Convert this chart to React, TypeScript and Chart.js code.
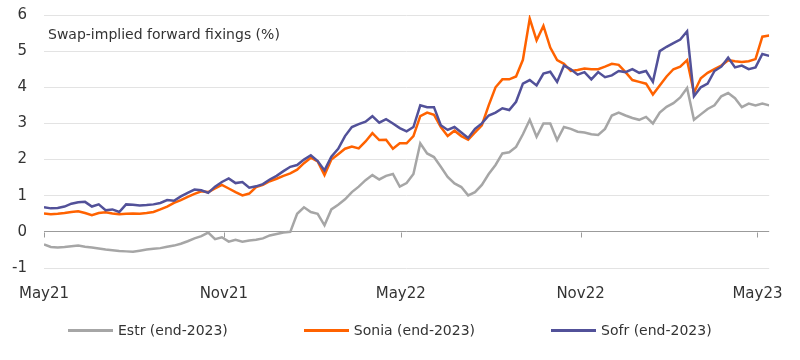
import React, { useEffect, useRef } from "react";
import { Chart, registerables } from "chart.js";

Chart.register(...registerables);

// Weekly observation dates
const dates = [
  "2021-05-01","2021-05-08","2021-05-15","2021-05-22","2021-05-29","2021-06-05","2021-06-12","2021-06-19","2021-06-26",
  "2021-07-03","2021-07-10","2021-07-17","2021-07-24","2021-07-31","2021-08-07","2021-08-14","2021-08-21","2021-08-28",
  "2021-09-04","2021-09-11","2021-09-18","2021-09-25","2021-10-02","2021-10-09","2021-10-16","2021-10-23","2021-10-30",
  "2021-11-06","2021-11-13","2021-11-20","2021-11-27","2021-12-04","2021-12-11","2021-12-18","2021-12-25",
  "2022-01-01","2022-01-08","2022-01-15","2022-01-22","2022-01-29","2022-02-05","2022-02-12","2022-02-19","2022-02-26",
  "2022-03-05","2022-03-12","2022-03-19","2022-03-26","2022-04-02","2022-04-09","2022-04-16","2022-04-23","2022-04-30",
  "2022-05-07","2022-05-14","2022-05-21","2022-05-28","2022-06-04","2022-06-11","2022-06-18","2022-06-25","2022-07-02",
  "2022-07-09","2022-07-16","2022-07-23","2022-07-30","2022-08-06","2022-08-13","2022-08-20","2022-08-27","2022-09-03",
  "2022-09-10","2022-09-17","2022-09-24","2022-10-01","2022-10-08","2022-10-15","2022-10-22","2022-10-29","2022-11-05",
  "2022-11-12","2022-11-19","2022-11-26","2022-12-03","2022-12-10","2022-12-17","2022-12-24","2022-12-31",
  "2023-01-07","2023-01-14","2023-01-21","2023-01-28","2023-02-04","2023-02-11","2023-02-18","2023-02-25","2023-03-04",
  "2023-03-11","2023-03-18","2023-03-25","2023-04-01","2023-04-08","2023-04-15","2023-04-22","2023-04-29","2023-05-06",
  "2023-05-13"
];

const estr = [
  -0.35,-0.42,-0.43,-0.42,-0.40,-0.38,-0.41,-0.43,-0.46,-0.49,-0.51,-0.53,-0.54,-0.55,-0.52,-0.49,-0.47,-0.45,
  -0.41,-0.38,-0.33,-0.26,-0.18,-0.12,-0.02,-0.20,-0.15,-0.27,-0.22,-0.27,-0.24,-0.22,-0.18,-0.10,-0.06,
  -0.02,0.00,0.50,0.68,0.55,0.50,0.18,0.62,0.75,0.90,1.10,1.25,1.43,1.57,1.45,1.55,1.60,1.25,
  1.35,1.60,2.45,2.17,2.07,1.80,1.52,1.34,1.24,1.01,1.10,1.30,1.60,1.85,2.17,2.20,2.35,2.70,
  3.10,2.63,3.00,3.00,2.54,2.90,2.85,2.77,2.75,2.70,2.68,2.85,3.22,3.30,3.22,3.15,3.10,
  3.18,3.00,3.30,3.46,3.56,3.72,3.98,3.10,3.25,3.40,3.50,3.75,3.84,3.70,3.45,3.55,3.50,3.55,
  3.50
];

const sonia = [
  0.51,0.49,0.50,0.52,0.55,0.57,0.52,0.46,0.52,0.54,0.51,0.49,0.50,0.51,0.50,0.52,0.55,0.62,
  0.70,0.80,0.88,0.97,1.05,1.12,1.10,1.20,1.30,1.20,1.10,1.01,1.06,1.24,1.30,1.40,1.47,
  1.55,1.62,1.72,1.90,2.05,1.95,1.57,2.00,2.15,2.30,2.36,2.31,2.50,2.73,2.54,2.55,2.30,2.45,
  2.45,2.65,3.20,3.30,3.24,2.90,2.65,2.80,2.65,2.55,2.75,2.95,3.50,4.00,4.22,4.22,4.30,4.76,
  5.90,5.30,5.70,5.10,4.75,4.65,4.45,4.48,4.52,4.50,4.50,4.57,4.65,4.62,4.42,4.20,4.15,
  4.10,3.80,4.05,4.30,4.50,4.57,4.75,3.85,4.25,4.40,4.50,4.60,4.75,4.72,4.70,4.72,4.78,5.40,
  5.43
];

const sofr = [
  0.68,0.65,0.66,0.70,0.78,0.82,0.83,0.70,0.76,0.60,0.62,0.55,0.76,0.75,0.73,0.74,0.76,0.80,
  0.88,0.86,0.98,1.08,1.17,1.15,1.08,1.25,1.38,1.48,1.35,1.38,1.22,1.26,1.32,1.45,1.55,
  1.68,1.80,1.85,2.00,2.12,1.96,1.70,2.08,2.30,2.65,2.90,2.98,3.05,3.20,3.02,3.12,3.00,2.87,
  2.78,2.90,3.50,3.45,3.45,2.95,2.82,2.90,2.75,2.60,2.85,3.00,3.22,3.30,3.42,3.37,3.60,4.10,
  4.20,4.05,4.38,4.43,4.15,4.60,4.50,4.35,4.42,4.22,4.42,4.28,4.33,4.45,4.42,4.50,4.40,
  4.45,4.15,5.00,5.12,5.22,5.32,5.55,3.75,4.00,4.10,4.45,4.57,4.82,4.55,4.60,4.50,4.55,4.92,
  4.87
];

const tickDates = ["2021-05-01", "2021-11-01", "2022-05-01", "2022-11-01", "2023-05-01"];
const tickLabels = ["May21", "Nov21", "May22", "Nov22", "May23"];
const yMin = -1;
const yMax = 6;
const seriesNames = ["Estr (end-2023)", "Sonia (end-2023)", "Sofr (end-2023)"];
const seriesColors = ["#A6A6A6", "#FF6200", "#525199"];
const titleText = "Swap-implied forward fixings (%)";
const FONT = "'DejaVu Sans', sans-serif";
const TEXT = "#333333";

const ORIGIN = Date.UTC(2021, 4, 1);
const toDay = (s: string) => {
  const [y, m, d] = s.split("-").map(Number);
  return (Date.UTC(y, m - 1, d) - ORIGIN) / 86400000;
};
const tickDays = tickDates.map(toDay);
const lastDay = toDay(dates[dates.length - 1]);

const zeroAxisPlugin = {
  id: "zeroAxisAndTitle",
  beforeDatasetsDraw(chart: any) {
    const { ctx, scales, chartArea } = chart;
    const x = scales.x;
    const y = scales.y;
    const y0 = Math.round(y.getPixelForValue(0)) + 0.5;
    ctx.save();
    ctx.strokeStyle = "#9b9b9b";
    ctx.lineWidth = 1;
    ctx.beginPath();
    tickDays.forEach((d) => {
      const px = Math.round(x.getPixelForValue(d)) + 0.5;
      ctx.moveTo(px, y0);
      ctx.lineTo(px, y0 + 5);
    });
    ctx.stroke();
    ctx.fillStyle = TEXT;
    ctx.font = `14px ${FONT}`;
    ctx.textBaseline = "middle";
    ctx.textAlign = "left";
    ctx.fillText(titleText, chartArea.left + 4, chartArea.top + 20);
    ctx.restore();
  },
};

export default function App() {
  const ref = useRef<HTMLCanvasElement | null>(null);

  useEffect(() => {
    if (!ref.current) return;
    const series = [estr, sonia, sofr];
    const chart = new Chart(ref.current, {
      type: "line",
      data: {
        datasets: series.map((vals, i) => ({
          label: seriesNames[i],
          data: dates.map((d, j) => ({ x: toDay(d), y: vals[j] })),
          borderColor: seriesColors[i],
          backgroundColor: seriesColors[i],
          borderWidth: 2.5,
          pointRadius: 0,
          tension: 0,
          order: 2 - i,
        })),
      },
      options: {
        animation: false,
        responsive: false,
        devicePixelRatio: 1,
        layout: { padding: { top: 15, right: 30, left: 0, bottom: 0 } },
        plugins: {
          legend: { display: false },
          tooltip: { enabled: false },
        },
        scales: {
          x: {
            type: "linear",
            min: 0,
            max: lastDay,
            grid: { display: false, drawTicks: false },
            border: { display: false },
            afterBuildTicks: (scale: any) => {
              scale.ticks = tickDays.map((v) => ({ value: v }));
            },
            afterFit: (scale: any) => {
              scale.height = 92;
              scale.paddingTop = 0;
              scale.paddingBottom = 0;
            },
            ticks: {
              autoSkip: false,
              maxRotation: 0,
              padding: 17,
              color: TEXT,
              font: { family: FONT, size: 15 },
              callback: (value: any) => {
                const idx = tickDays.indexOf(Number(value));
                return idx >= 0 ? tickLabels[idx] : "";
              },
            },
          },
          y: {
            min: yMin,
            max: yMax,
            border: { display: false },
            grid: {
              drawTicks: false,
              color: (c: any) => (c.tick && c.tick.value === 0 ? "#9b9b9b" : "#e3e3e3"),
              lineWidth: 1,
            },
            afterFit: (scale: any) => {
              scale.width = 44;
              scale.paddingTop = 0;
              scale.paddingBottom = 0;
            },
            ticks: {
              stepSize: 1,
              padding: 17,
              color: TEXT,
              font: { family: FONT, size: 15 },
            },
          },
        },
      },
      plugins: [zeroAxisPlugin],
    });
    return () => chart.destroy();
  }, []);

  return (
    <div style={{ position: "fixed", left: 0, top: 0, width: 800, height: 360, background: "#fff" }}>
      <canvas ref={ref} width={800} height={360} style={{ display: "block" }} />
      <div
        style={{
          position: "absolute",
          left: 68,
          top: 320,
          height: 20,
          display: "flex",
          alignItems: "center",
          gap: 76,
          fontFamily: FONT,
          fontSize: 14,
          color: TEXT,
          whiteSpace: "nowrap",
        }}
      >
        {seriesNames.map((name, i) => (
          <div key={name} style={{ display: "flex", alignItems: "center" }}>
            <span style={{ display: "inline-block", width: 45, height: 3, background: seriesColors[i], marginRight: 5 }} />
            <span>{name}</span>
          </div>
        ))}
      </div>
    </div>
  );
}
